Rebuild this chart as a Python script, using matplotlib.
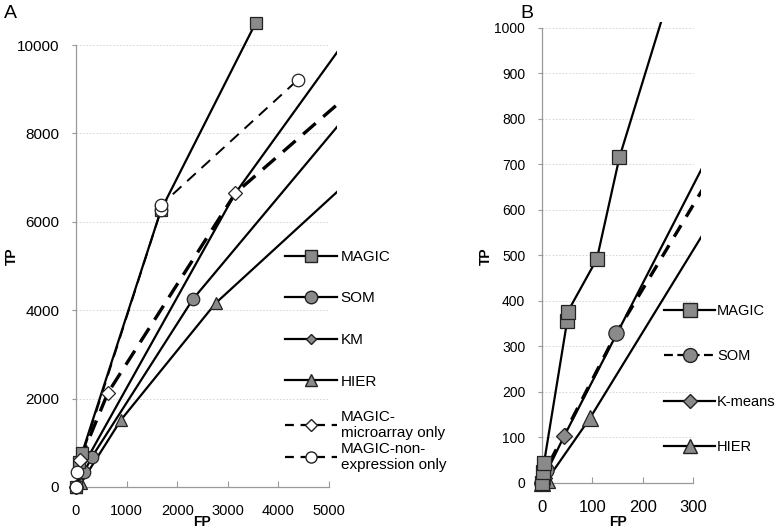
import numpy as np
import matplotlib.pyplot as plt
from matplotlib.lines import Line2D

plt.rcParams['font.family'] = ['Liberation Sans', 'DejaVu Sans']

# Panel A data (FP, TP)
a_magic_fp = [0, 60, 120, 1680, 3550]
a_magic_tp = [0, 565, 770, 6270, 10500]
a_som_fp = [0, 160, 315, 2310, 6000]
a_som_tp = [0, 340, 680, 4250, 9300]
a_km_fp = [0, 80, 250, 3150, 6000]
a_km_tp = [0, 300, 700, 6650, 11170]
a_hier_fp = [0, 100, 890, 2760, 6000]
a_hier_tp = [0, 90, 1520, 4160, 7560]
a_micro_fp = [0, 80, 630, 3150, 6000]
a_micro_tp = [0, 600, 2130, 6650, 9490]
a_nonexp_fp = [0, 20, 1680, 1680, 4380]
a_nonexp_tp = [0, 350, 6270, 6380, 9210]

# Panel B data (FP, TP)
b_magic_fp = [0, 2, 4, 50, 51, 109, 154, 260]
b_magic_tp = [0, 24, 44, 356, 376, 492, 716, 1097]
b_som_fp = [0, 7, 148, 400]
b_som_tp = [0, 28, 330, 794]
b_km_fp = [0, 3, 44, 400]
b_km_tp = [0, 10, 103, 868]
b_hier_fp = [0, 10, 95, 400]
b_hier_tp = [0, 7, 142, 691]

a_labels = ['MAGIC', 'SOM', 'KM', 'HIER', 'MAGIC-\nmicroarray only', 'MAGIC-non-\nexpression only']
b_labels = ['MAGIC', 'SOM', 'K-means', 'HIER']

GRAY = '#8a8a8a'
EDGE = '#222222'


def series(ax, fp, tp, xmax, ymax, marker, ms, fc, ls='-', lw=1.6):
    fp = np.array(fp)
    tp = np.array(tp)
    ax.plot(fp, tp, color='black', ls=ls, lw=lw, zorder=2)
    keep = (fp <= xmax) & (tp <= ymax)
    ax.plot(fp[keep], tp[keep], ls='none', marker=marker, ms=ms, mfc=fc,
            mec=EDGE, mew=0.9, clip_on=False, zorder=3)


def style_axes(ax, xmax, ymax, xticks, yticks):
    for s in ['top', 'right']:
        ax.spines[s].set_visible(False)
    for s in ['left', 'bottom']:
        ax.spines[s].set_color('#999999')
        ax.spines[s].set_linewidth(0.9)
    ax.spines['bottom'].set_bounds(0, xticks[-1])
    ax.spines['left'].set_bounds(0, yticks[-1])
    ax.set_xticks(xticks)
    ax.set_yticks(yticks)
    ax.hlines(yticks[1:], 0, xticks[-1], colors='#d0d0d0', lw=0.6, ls=(0, (2, 2)), zorder=0)
    ax.tick_params(axis='x', direction='in', length=4, color='#999999', pad=12)
    ax.tick_params(axis='y', direction='out', length=3, color='#999999', pad=9)


fig = plt.figure(figsize=(7.83, 5.32), dpi=100)

# ---- Panel A ----
axA = fig.add_axes([76 / 783, 1 - 487 / 532, 261 / 783, 464 / 532])
xA, yA = 5158, 10500
series(axA, a_hier_fp, a_hier_tp, xA, yA, '^', 9, GRAY)
series(axA, a_km_fp, a_km_tp, xA, yA, 'D', 5, GRAY)
series(axA, a_som_fp, a_som_tp, xA, yA, 'o', 9, GRAY)
series(axA, a_magic_fp, a_magic_tp, xA, yA, 's', 8, GRAY)
series(axA, a_micro_fp, a_micro_tp, xA, yA, 'D', 7, 'white', ls=(0, (5, 3)), lw=2.4)
series(axA, a_nonexp_fp, a_nonexp_tp, xA, yA, 'o', 9, 'white', ls=(0, (6, 4)), lw=1.4)
axA.set_xlim(0, xA)
axA.set_ylim(0, yA)
style_axes(axA, xA, yA, [0, 1000, 2000, 3000, 4000, 5000], [0, 2000, 4000, 6000, 8000, 10000])
axA.tick_params(axis='x', labelsize=10.5)
axA.tick_params(axis='y', labelsize=11)

hA = [
    Line2D([], [], color='black', lw=1.6, marker='s', ms=8, mfc=GRAY, mec=EDGE),
    Line2D([], [], color='black', lw=1.6, marker='o', ms=9, mfc=GRAY, mec=EDGE),
    Line2D([], [], color='black', lw=1.6, marker='D', ms=5, mfc=GRAY, mec=EDGE),
    Line2D([], [], color='black', lw=1.6, marker='^', ms=9, mfc=GRAY, mec=EDGE),
    Line2D([], [], color='black', lw=1.6, ls=(0, (4, 3)), marker='D', ms=6, mfc='white', mec=EDGE),
    Line2D([], [], color='black', lw=1.6, ls=(0, (4, 3)), marker='o', ms=8, mfc='white', mec=EDGE),
]
# single-line entries spaced wide, the two-line entries packed tight
fig.legend(hA[:4], a_labels[:4], loc='upper left', bbox_to_anchor=(285 / 783, 1 - 250 / 532),
           frameon=False, fontsize=11, handlelength=3.4, handletextpad=0.25,
           labelspacing=1.8, borderpad=0, borderaxespad=0)
fig.legend(hA[4:], a_labels[4:], loc='upper left', bbox_to_anchor=(285 / 783, 1 - 410 / 532),
           frameon=False, fontsize=11, handlelength=3.4, handletextpad=0.25,
           labelspacing=0.1, borderpad=0, borderaxespad=0)

fig.text(10 / 783, 1 - 14 / 532, 'A', fontsize=14, ha='center', va='center')
fig.text(12 / 783, 1 - 256 / 532, 'TP', fontsize=10, fontweight='bold', rotation=90,
         ha='center', va='center')
fig.text(202 / 783, 1 - 522 / 532, 'FP', fontsize=10, fontweight='bold', ha='center', va='center')

# ---- Panel B ----
axB = fig.add_axes([542 / 783, 1 - 483 / 532, 159 / 783, 461 / 532])
xB, yB = 316, 1013
series(axB, b_hier_fp, b_hier_tp, xB, yB, '^', 11, GRAY)
series(axB, b_km_fp, b_km_tp, xB, yB, 'D', 8, GRAY)
series(axB, b_som_fp, b_som_tp, xB, yB, 'o', 11, GRAY, ls=(0, (4, 3)), lw=2.4)
series(axB, b_magic_fp, b_magic_tp, xB, yB, 's', 10, GRAY)
axB.set_xlim(0, xB)
axB.set_ylim(0, yB)
style_axes(axB, xB, yB, [0, 100, 200, 300], list(range(0, 1001, 100)))
axB.tick_params(axis='x', labelsize=12)
axB.tick_params(axis='y', labelsize=10)

hB = [
    Line2D([], [], color='black', lw=1.6, marker='s', ms=10, mfc=GRAY, mec=EDGE),
    Line2D([], [], color='black', lw=1.6, ls=(0, (4, 2)), marker='o', ms=10, mfc=GRAY, mec=EDGE),
    Line2D([], [], color='black', lw=1.6, marker='D', ms=7, mfc=GRAY, mec=EDGE),
    Line2D([], [], color='black', lw=1.6, marker='^', ms=10, mfc=GRAY, mec=EDGE),
]
fig.legend(hB, b_labels, loc='upper left', bbox_to_anchor=(664 / 783, 1 - 304 / 532),
           frameon=False, fontsize=10.5, handlelength=3.5, handletextpad=0.15,
           labelspacing=2.15, borderpad=0, borderaxespad=0)

fig.text(527 / 783, 1 - 14 / 532, 'B', fontsize=14, ha='center', va='center')
fig.text(486 / 783, 1 - 256 / 532, 'TP', fontsize=10, fontweight='bold', rotation=90,
         ha='center', va='center')
fig.text(618 / 783, 1 - 522 / 532, 'FP', fontsize=10, fontweight='bold', ha='center', va='center')

fig.savefig('out.png', dpi=100)
